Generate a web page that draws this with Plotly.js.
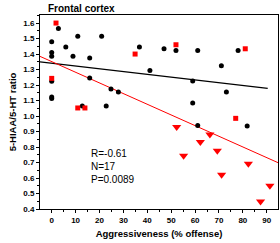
<!DOCTYPE html>
<html>
<head>
<meta charset="utf-8">
<script src="https://cdn.plot.ly/plotly-3.0.1.min.js"></script>
<style>html,body{margin:0;padding:0;background:#fff;}#chart{width:280px;height:243px;}</style>
</head>
<body>
<div id="chart"></div>
<script>
// Black circles
const blackX = [0, 0, 0, 0, 0, 0, 2.8, 5.9, 8.9, 10.9, 12.8, 15.9, 15.9, 20.9, 22.8, 24.8, 27.9, 36.7, 41.1, 47, 52, 59, 59, 61.1, 61.1, 71, 73.1, 78, 81.8];
const blackY = [1.48, 1.41, 1.385, 1.225, 1.122, 1.113, 1.565, 1.445, 1.385, 1.515, 1.064, 1.374, 1.245, 1.515, 1.064, 1.174, 1.155, 1.445, 1.294, 1.434, 1.423, 1.226, 1.084, 1.423, 0.939, 1.325, 1.155, 1.423, 0.935];
// Red squares
const redSqX = [1.8, 0, 10.9, 13.9, 34.9, 52, 77, 81];
const redSqY = [1.60, 1.243, 1.052, 1.052, 1.40, 1.46, 0.985, 1.434];
// Red down-triangles
const redTriX = [52.3, 55.2, 62.2, 66.2, 69.3, 71.1, 82.3, 87.4, 91.3];
const redTriY = [0.929, 0.744, 0.832, 0.881, 0.776, 0.621, 0.692, 0.449, 0.55];
// Regression lines (endpoints)
const blackFitX = [-4.9, 90.4];
const blackFitY = [1.35, 1.178];
const redFitX = [-4.9, 94.7];
const redFitY = [1.385, 0.699];
const xTicks = [0, 10, 20, 30, 40, 50, 60, 70, 80, 90];
const statsText = ['R=-0.61', 'N=17', 'P=0.0089'];

const FONT = 'Liberation Sans, Arial, sans-serif';

const traces = [
  {x: blackFitX, y: blackFitY, mode: 'lines', line: {color: '#000', width: 1.2}, hoverinfo: 'skip'},
  {x: redFitX, y: redFitY, mode: 'lines', line: {color: '#ff0000', width: 1}, hoverinfo: 'skip'},
  {x: blackX, y: blackY, mode: 'markers', marker: {symbol: 'circle', size: 5, color: '#000'}},
  {x: redSqX, y: redSqY, mode: 'markers', marker: {symbol: 'square', size: 5, color: '#ff0000'}},
  {x: redTriX, y: redTriY, mode: 'markers', marker: {symbol: 'triangle-down', size: 8, color: '#ff0000'}}
];

const layout = {
  width: 280, height: 243,
  margin: {l: 40, r: 2, t: 15, b: 34},
  showlegend: false,
  paper_bgcolor: '#fff', plot_bgcolor: '#fff',
  font: {family: FONT, color: '#000'},
  xaxis: {
    range: [-4.9, 94.7], tickvals: xTicks, ticktext: xTicks.map(String),
    showgrid: false, zeroline: false, showline: true, linecolor: '#000', linewidth: 1, mirror: true,
    ticks: 'outside', ticklen: 3, tickwidth: 1, tickcolor: '#000',
    minor: {dtick: 5, tick0: 0, ticks: 'outside', ticklen: 2, tickcolor: '#000', showgrid: false},
    tickfont: {family: FONT, size: 8, weight: 'bold'},
    title: {text: 'Aggressiveness (% offense)', font: {family: FONT, size: 9.5, weight: 'bold'}, standoff: 6}
  },
  yaxis: {
    range: [0.4, 1.652], dtick: 0.1, tick0: 0.4, tickformat: '.1f',
    showgrid: false, zeroline: false, showline: true, linecolor: '#000', linewidth: 1, mirror: true,
    ticks: 'outside', ticklen: 3, tickwidth: 1, tickcolor: '#000',
    minor: {dtick: 0.05, ticks: 'outside', ticklen: 2, tickcolor: '#000', showgrid: false},
    tickfont: {family: FONT, size: 8, weight: 'bold'},
    title: {text: '5-HIAA/5-HT ratio', font: {family: FONT, size: 9.5, weight: 'bold'}, standoff: 4}
  },
  annotations: [
    {xref: 'paper', yref: 'paper', x: 0.024, y: 1, xanchor: 'left', yanchor: 'bottom', showarrow: false,
     text: 'Frontal cortex', font: {family: FONT, size: 10, weight: 'bold'}, yshift: -1},
    {xref: 'x', yref: 'y', x: 15.7, y: 0.675, xanchor: 'left', yanchor: 'middle', align: 'left', showarrow: false,
     text: statsText.join('<br>'), font: {family: FONT, size: 10}}
  ]
};

Plotly.newPlot('chart', traces, layout, {displayModeBar: false, staticPlot: true});
</script>
</body>
</html>
